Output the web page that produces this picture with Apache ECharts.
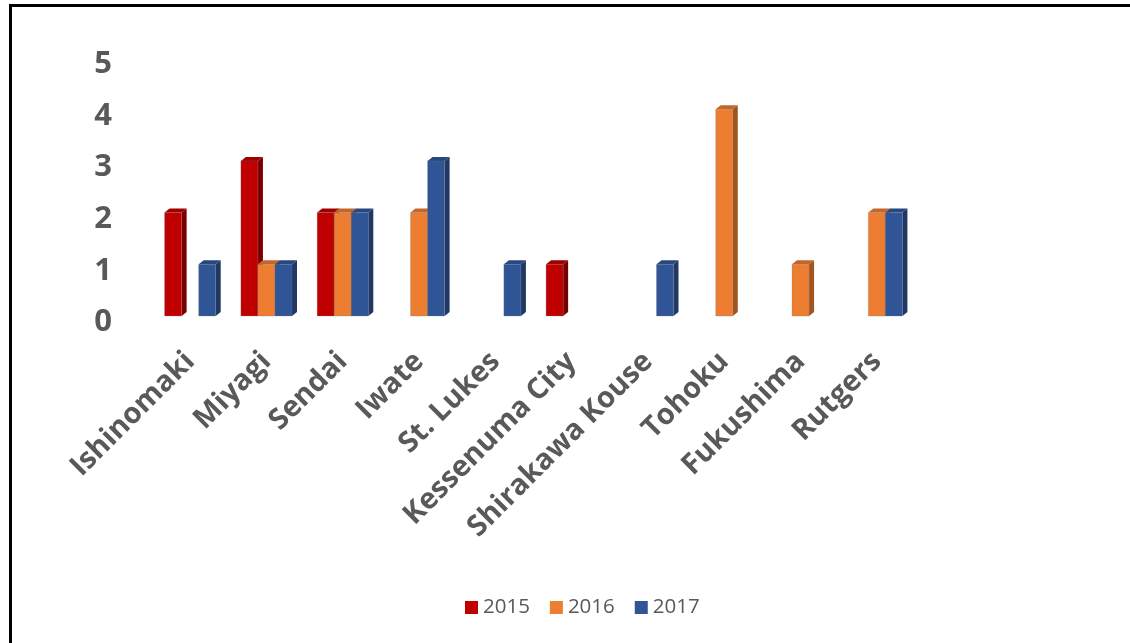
<!DOCTYPE html>
<html>
<head>
<meta charset="utf-8">
<script src="https://cdn.jsdelivr.net/npm/echarts@6/dist/echarts.min.js"></script>
<style>
html,body{margin:0;padding:0;background:#fff;}
#chart{width:1130px;height:643px;position:absolute;left:0;top:0;}
#frame{position:absolute;left:9px;top:4px;width:1200px;height:700px;border-left:3px solid #000;border-top:3px solid #000;pointer-events:none;}
</style>
</head>
<body>
<div id="chart"></div>
<div id="frame"></div>
<script>
const categories = ['Ishinomaki','Miyagi','Sendai','Iwate','St. Lukes','Kessenuma City','Shirakawa Kouse','Tohoku','Fukushima','Rutgers'];
const years = ['2015','2016','2017'];
const values2015 = [2,3,2,0,0,1,0,0,0,0];
const values2016 = [0,1,2,2,0,0,0,4,1,2];
const values2017 = [1,1,2,3,1,0,1,0,0,2];
const yTicks = [0,1,2,3,4,5];

const palette = [
  {front:'#C00000', side:'#7A0000', top:'#9E0000'},
  {front:'#ED7D31', side:'#A0541F', top:'#C4652A'},
  {front:'#2F5597', side:'#1F3864', top:'#26477F'}
];
const seriesValues = [values2015, values2016, values2017];

function makeRender(si){
  return function(params, api){
    const cat = api.value(0), val = api.value(1);
    if(!val) return null;
    const band = api.size([1,0])[0];
    const bw = band*0.67/3;
    const c = api.coord([cat, val]);
    const b = api.coord([cat, 0]);
    const x0 = c[0] + (si-1)*bw - bw/2;
    const x1 = x0 + bw;
    const yT = c[1], yB = b[1];
    const dx = 5, dy = 4;
    const col = palette[si];
    return {
      type:'group',
      children:[
        {type:'polygon', shape:{points:[[x1,yB],[x1+dx,yB-dy],[x1+dx,yT-dy],[x1,yT]]}, style:{fill:col.side}},
        {type:'polygon', shape:{points:[[x0,yT],[x0+dx,yT-dy],[x1+dx,yT-dy],[x1,yT]]}, style:{fill:col.top}},
        {type:'rect', shape:{x:x0,y:yT,width:bw,height:yB-yT}, style:{fill:col.front, stroke:'rgba(120,120,120,0.45)', lineWidth:0.6}}
      ]
    };
  };
}

const chart = echarts.init(document.getElementById('chart'), null, {renderer:'canvas'});
chart.setOption({
  animation:false,
  backgroundColor:'#fff',
  grid:{left:152, right:215, top:57.5, bottom:327, containLabel:false},
  legend:{
    bottom:20, left:460,
    itemWidth:13, itemHeight:13, itemGap:20,
    icon:'rect',
    textStyle:{fontFamily:'Open Sans', fontSize:20.5, color:'#595959'},
    data:years
  },
  xAxis:{
    type:'category', data:categories,
    axisLine:{show:false}, axisTick:{show:false},
    axisLabel:{rotate:45, interval:0, margin:41, fontFamily:'Open Sans', fontWeight:'bold', fontSize:29, color:'#595959'}
  },
  yAxis:{
    type:'value', min:0, max:5, interval:1,
    splitLine:{show:false}, axisLine:{show:false}, axisTick:{show:false},
    axisLabel:{margin:40, fontFamily:'Open Sans', fontWeight:'bold', fontSize:31, color:'#595959',
      formatter:function(v){return yTicks.indexOf(v)>=0 ? '{n|' + v + '}' : '';},
      rich:{n:{fontFamily:'Open Sans', fontWeight:'bold', fontSize:31, color:'#595959', padding:[13,0,0,0]}}
    }
  },
  series: years.map(function(y, si){
    return {
      name:y, type:'custom',
      itemStyle:{color:palette[si].front},
      renderItem:makeRender(si),
      encode:{x:0, y:1},
      data: seriesValues[si].map(function(v,i){return [i,v];})
    };
  })
});
</script>
</body>
</html>
